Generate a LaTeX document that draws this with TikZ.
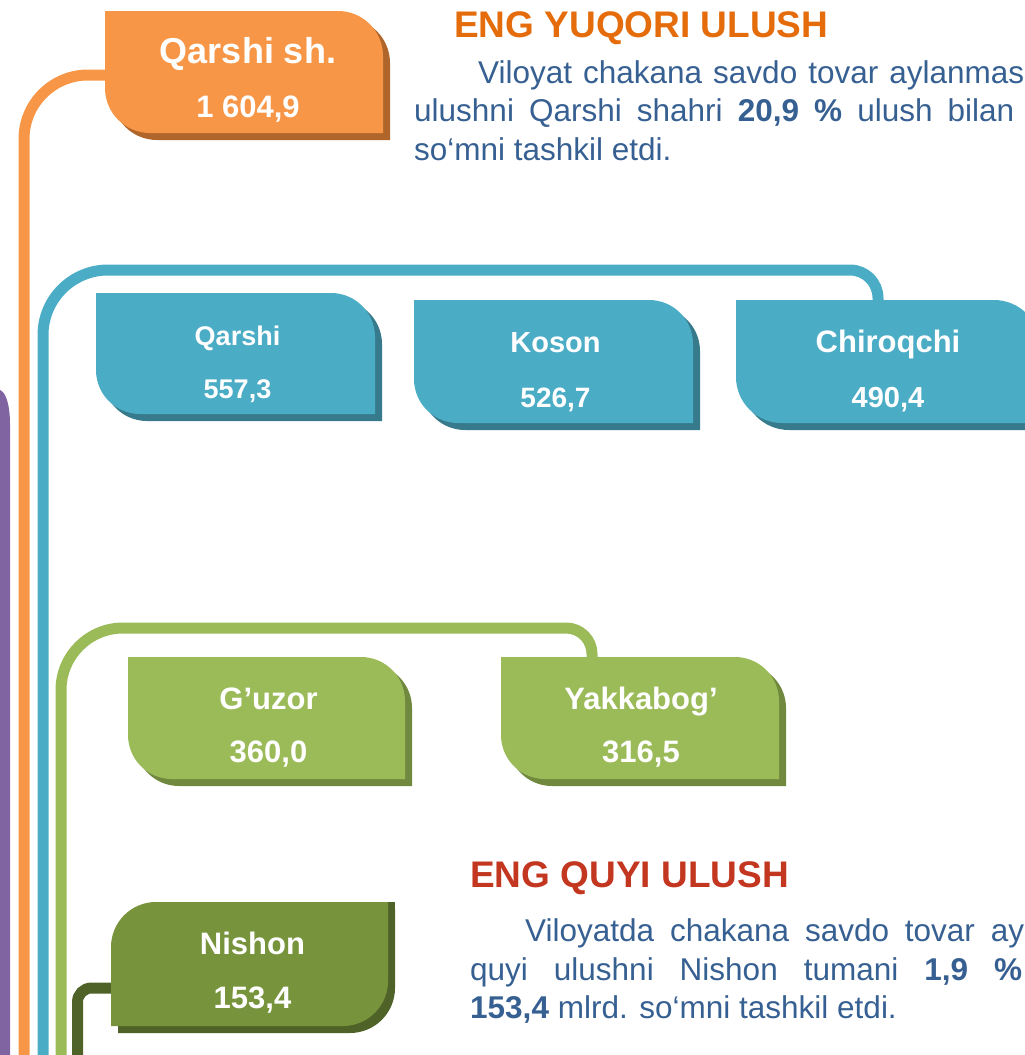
\documentclass[tikz,border=0pt]{standalone}
\usepackage{fontspec}
\setmainfont{Liberation Sans}
\usetikzlibrary{calc}
\definecolor{orbox}{HTML}{F79646}
\definecolor{orsh}{HTML}{B0662A}
\definecolor{blbox}{HTML}{4BACC6}
\definecolor{blsh}{HTML}{367A8C}
\definecolor{grbox}{HTML}{9BBB59}
\definecolor{grsh}{HTML}{71893F}
\definecolor{dgbox}{HTML}{77933C}
\definecolor{dgsh}{HTML}{4F6228}
\definecolor{purp}{HTML}{8064A2}
\definecolor{heador}{HTML}{E46C0A}
\definecolor{headred}{HTML}{C3361F}
\definecolor{bodyblue}{HTML}{376092}
% rounded NE and SW corners: node, colour, offset, radius
\newcommand\shapeNESW[4]{%
\fill[#2] ($(#1.north west)+(#3,#3)$) -- ($(#1.north east)+({#3-#4},#3)$)
 .. controls ($(#1.north east)+({#3-0.4477*#4},#3)$) and ($(#1.north east)+(#3,{#3+0.4477*#4})$) .. ($(#1.north east)+(#3,{#3+#4})$)
 -- ($(#1.south east)+(#3,#3)$) -- ($(#1.south west)+({#3+#4},#3)$)
 .. controls ($(#1.south west)+({#3+0.4477*#4},#3)$) and ($(#1.south west)+(#3,{#3-0.4477*#4})$) .. ($(#1.south west)+(#3,{#3-#4})$)
 -- cycle;}
% rounded NW and SE corners
\newcommand\shapeNWSE[4]{%
\fill[#2] ($(#1.north west)+(#3,{#3+#4})$)
 .. controls ($(#1.north west)+(#3,{#3+0.4477*#4})$) and ($(#1.north west)+({#3+0.4477*#4},#3)$) .. ($(#1.north west)+({#3+#4},#3)$)
 -- ($(#1.north east)+(#3,#3)$) -- ($(#1.south east)+(#3,{#3-#4})$)
 .. controls ($(#1.south east)+(#3,{#3-0.4477*#4})$) and ($(#1.south east)+({#3-0.4477*#4},#3)$) .. ($(#1.south east)+({#3-#4},#3)$)
 -- ($(#1.south west)+(#3,#3)$) -- cycle;}
\begin{document}
\begin{tikzpicture}[x=1pt,y=-1pt,
  boxn/.style={rectangle,inner sep=0pt,outer sep=0pt,anchor=north west},
  lbl/.style={text=white,inner sep=0pt,anchor=base,font=\bfseries\fontsize{#1}{#1}\selectfont},
  conn/.style={line width=11pt},
  head/.style={inner sep=0pt,anchor=base west,font=\bfseries\fontsize{37}{40}\selectfont},
  body/.style={inner sep=0pt,anchor=base west,text=bodyblue,font=\fontsize{31.5}{38}\selectfont}]
\useasboundingbox (0,0) rectangle (1025,1055);
\clip (0,0) rectangle (1025,1055);
% box nodes
\node[boxn,minimum width=278pt,minimum height=122pt] (os) at (105,11) {};
\node[boxn,minimum width=279pt,minimum height=121pt] (bq) at (96,293) {};
\node[boxn,minimum width=279pt,minimum height=123pt] (ko) at (414,300) {};
\node[boxn,minimum width=304pt,minimum height=123pt] (ch) at (736,300) {};
\node[boxn,minimum width=277pt,minimum height=122pt] (gu) at (128,657) {};
\node[boxn,minimum width=278pt,minimum height=122pt] (yk) at (501,657) {};
\node[boxn,minimum width=277pt,minimum height=124pt] (ni) at (111,902) {};
% purple bar
\fill[purp] (-20,1060) -- (-20,390) -- (0,390) .. controls (5,392) and (10,402) .. (10,425) -- (10,1060) -- cycle;
% connectors
\coordinate (orbot) at (24,1060);
\coordinate (orin) at ($(os.north west)+(6,64)$);
\draw[conn,orbox,rounded corners=64pt] (orbot) |- (orin);
% blue
\coordinate (blbot) at (43,1060);
\coordinate (blin) at ($(ch.north west)+(142,6)$);
\coordinate (bk1) at (43,270);
\coordinate (bk2) at (blin |- bk1);
\draw[conn,blbox] (blbot) -- ($(bk1)+(0,65)$)
  .. controls ($(bk1)+(0,29.1)$) and ($(bk1)+(29.1,0)$) .. ($(bk1)+(65,0)$)
  -- ($(bk2)+(-28,0)$)
  .. controls ($(bk2)+(-12.5,0)$) and ($(bk2)+(0,12.5)$) .. ($(bk2)+(0,28)$)
  -- (blin);
% green
\coordinate (grbot) at (61,1060);
\coordinate (grin) at ($(yk.north west)+(91,6)$);
\coordinate (gk1) at (61,628);
\coordinate (gk2) at (grin |- gk1);
\draw[conn,grbox] (grbot) -- ($(gk1)+(0,62)$)
  .. controls ($(gk1)+(0,27.8)$) and ($(gk1)+(27.8,0)$) .. ($(gk1)+(62,0)$)
  -- ($(gk2)+(-26,0)$)
  .. controls ($(gk2)+(-11.6,0)$) and ($(gk2)+(0,11.6)$) .. ($(gk2)+(0,26)$)
  -- (grin);
% dark green
\coordinate (dgbot) at (77.5,1060);
\coordinate (dgin) at ($(ni.north west)+(6,86)$);
\draw[conn,dgsh,rounded corners=14pt] (dgbot) |- (dgin);
% boxes
\shapeNESW{os}{orsh}{7}{45}\shapeNESW{os}{orbox}{0}{45}
\shapeNESW{bq}{blsh}{7}{44}\shapeNESW{bq}{blbox}{0}{44}
\shapeNESW{ko}{blsh}{7}{44}\shapeNESW{ko}{blbox}{0}{44}
\shapeNESW{ch}{blsh}{7}{46}\shapeNESW{ch}{blbox}{0}{46}
\shapeNESW{gu}{grsh}{7}{44}\shapeNESW{gu}{grbox}{0}{44}
\shapeNESW{yk}{grsh}{7}{44}\shapeNESW{yk}{grbox}{0}{44}
\shapeNWSE{ni}{dgsh}{7}{45}
\fill[dgsh] (ni.north east) rectangle ($(ni.north east)+(7,8)$);
\shapeNWSE{ni}{dgbox}{0}{45}
% labels
\node[lbl=36] (osa) at ($(os.north)+(4,52)$) {Qarshi sh.};
\node[lbl=31] (osb) at ($(os.north)+(4,106)$) {1 604,9};
\node[lbl=27] (bqa) at ($(bq.north)+(2,52)$) {Qarshi};
\node[lbl=27] (bqb) at ($(bq.north)+(2,105)$) {557,3};
\node[lbl=29] (koa) at ($(ko.north)+(2,52)$) {Koson};
\node[lbl=28] (kob) at ($(ko.north)+(2,107)$) {526,7};
\node[lbl=31] (cha) at ($(ch.north)+(0,52)$) {Chiroqchi};
\node[lbl=29] (chb) at ($(ch.north)+(0,107)$) {490,4};
\node[lbl=31] (gua) at ($(gu.north)+(2,52)$) {G’uzor};
\node[lbl=31] (gub) at ($(gu.north)+(2,105)$) {360,0};
\node[lbl=31] (yka) at ($(yk.north)+(1,52)$) {Yakkabog’};
\node[lbl=31] (ykb) at ($(yk.north)+(1,105)$) {316,5};
\node[lbl=31] (nia) at ($(ni.north)+(3,52)$) {Nishon};
\node[lbl=31] (nib) at ($(ni.north)+(3,106)$) {153,4};
% texts
\node[head,text=heador] (h1) at (454,37) {ENG YUQORI ULUSH};
\node[body] (t1) at (478,83) {\makebox[546pt][s]{Viloyat chakana savdo tovar aylanmas}};
\node[body] (t2) at (414,121.5) {\makebox[600pt][s]{ulushni Qarshi shahri \textbf{20,9} \textbf{\%} ulush bilan}};
\node[body] (t3) at (414,160) {so‘mni tashkil etdi.};
\node[head,text=headred] (h2) at (470,887) {ENG QUYI ULUSH};
\node[body] (b1) at (525,941.5) {\makebox[499pt][s]{Viloyatda chakana savdo tovar ay}};
\node[body] (b2) at (470,980) {\makebox[552pt][s]{quyi ulushni Nishon tumani \textbf{1,9} \textbf{\%}}};
\node[body] (b3) at (470,1018) {\textbf{153,4} mlrd. so‘mni tashkil etdi.};
\end{tikzpicture}
\end{document}
